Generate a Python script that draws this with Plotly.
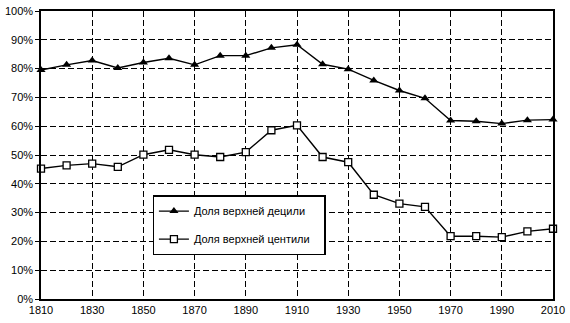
import plotly.graph_objects as go

years = [1810, 1820, 1830, 1840, 1850, 1860, 1870, 1880, 1890, 1900, 1910,
         1920, 1930, 1940, 1950, 1960, 1970, 1980, 1990, 2000, 2010]
top_decile = [79.5, 81.3, 82.8, 80.2, 82.1, 83.6, 81.3, 84.5, 84.5, 87.2, 88.3,
              81.5, 79.8, 75.9, 72.4, 69.7, 62.0, 61.7, 60.9, 62.1, 62.3]
top_centile = [45.3, 46.4, 47.0, 45.9, 50.1, 51.8, 50.1, 49.3, 51.0, 58.6, 60.3,
               49.3, 47.5, 36.2, 33.1, 32.0, 21.8, 21.8, 21.5, 23.5, 24.4]
decile_name = "Доля верхней децили"
centile_name = "Доля верхней центили"
x_ticks = list(range(1810, 2011, 20))
y_ticks = list(range(0, 101, 10))

FONT = "Liberation Sans Narrow, Liberation Sans, Arial, sans-serif"

fig = go.Figure()
fig.add_trace(go.Scatter(
    x=years, y=top_decile, name=decile_name + "\u00a0" * 3,
    mode="lines+markers", legendgroup="a",
    line=dict(color="black", width=1.4),
    marker=dict(symbol="triangle-up", size=8, color="black"),
    cliponaxis=False,
))
fig.add_trace(go.Scatter(
    x=years, y=top_centile, name=centile_name + "\u00a0" * 3,
    mode="lines+markers", legendgroup="b",
    line=dict(color="black", width=1.4),
    marker=dict(symbol="square", size=7, color="white",
                line=dict(width=1.3, color="black")),
    cliponaxis=False,
))

fig.update_layout(
    width=570, height=323,
    margin=dict(l=34, r=13, t=5, b=24),
    paper_bgcolor="white", plot_bgcolor="white",
    font=dict(family=FONT, size=11, color="black"),
    showlegend=True,
    legend=dict(
        x=0.218, y=0.36, xanchor="left", yanchor="top",
        bgcolor="white", bordercolor="black", borderwidth=1.3,
        font=dict(family=FONT, size=11, color="black"),
        tracegroupgap=9, itemwidth=30,
    ),
    xaxis=dict(
        range=[1810, 2010], tickvals=x_ticks, ticktext=[str(v) for v in x_ticks],
        showgrid=True, gridcolor="black", gridwidth=1.3, griddash="6px,3px",
        showline=True, linecolor="black", linewidth=1.5, mirror=True,
        ticks="", zeroline=False, tickfont=dict(size=11),
    ),
    yaxis=dict(
        range=[0, 100], tickvals=y_ticks, ticktext=[f"{v}%" for v in y_ticks],
        showgrid=True, gridcolor="black", gridwidth=1.3, griddash="6px,3px",
        showline=True, linecolor="black", linewidth=1.5, mirror=True,
        ticks="outside", ticklen=4, tickcolor="black", tickwidth=1.3,
        zeroline=False, tickfont=dict(size=11),
    ),
)

fig.write_html("out.html")
